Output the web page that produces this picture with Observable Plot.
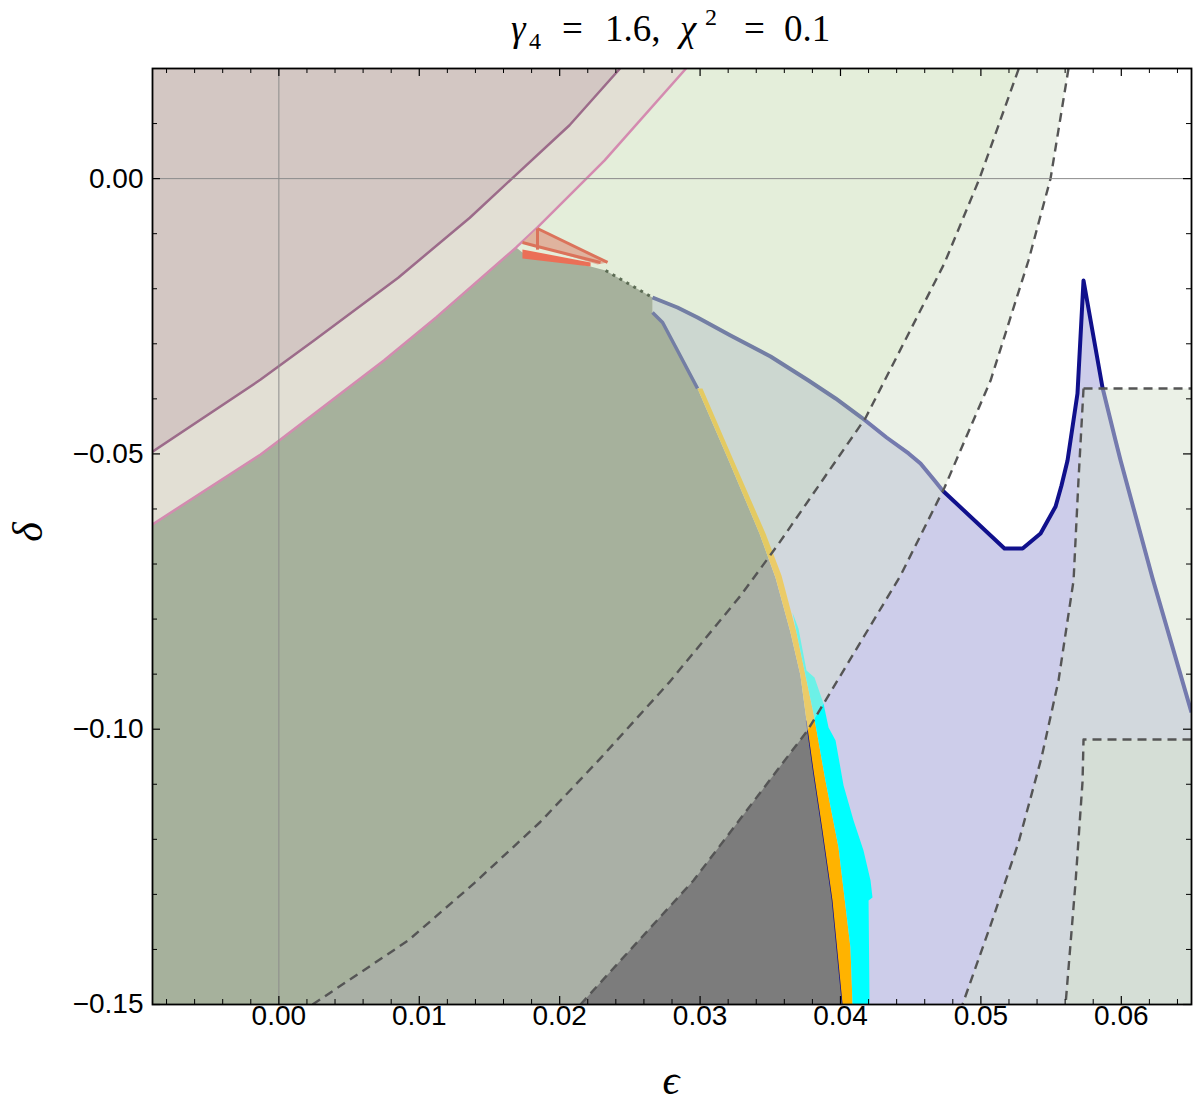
<!DOCTYPE html>
<html><head><meta charset="utf-8">
<script src="https://cdn.jsdelivr.net/npm/d3@7"></script>
<script src="https://cdn.jsdelivr.net/npm/@observablehq/plot@0.6"></script>
<style>body{margin:0;background:#fff} #chart svg{display:block}</style>
</head><body><div id="chart"></div>
<script>
// ---------- data: boundary curves as [epsilon, delta] ----------
const purpleLine = [[-0.009,-0.0496],[-0.0013,-0.0365],[0.0025,-0.0294],[0.0085,-0.0180],[0.0136,-0.0071],[0.0166,0.0],[0.0207,0.0097],[0.0243,0.02]];
const pinkLine = [[-0.009,-0.0628],[-0.0013,-0.0501],[0.0,-0.0476],[0.0075,-0.0330],[0.0112,-0.0252],[0.0169,-0.0125],[0.0184,-0.0089],[0.0219,0.0],[0.0232,0.0033],[0.0290,0.02]];
const kTop = [[0.01735,-0.01342],[0.02220,-0.01596],[0.02327,-0.01669],[0.02661,-0.02159]];
const blueLeft = [[0.02661,-0.02432],[0.02733,-0.02613],[0.02839,-0.03122],[0.02982,-0.03812],[0.03210,-0.05156],[0.03423,-0.06445],[0.03537,-0.07245],[0.03644,-0.08243],[0.03715,-0.09024],[0.03758,-0.09842],[0.03808,-0.10750],[0.03872,-0.11839],[0.03943,-0.13111],[0.04015,-0.15]];
const blueTop = [[0.02661,-0.02159],[0.02839,-0.02341],[0.02982,-0.02522],[0.03217,-0.02849],[0.03502,-0.03231],[0.03772,-0.03667],[0.03965,-0.03993],[0.04150,-0.04339],[0.04328,-0.04702],[0.04485,-0.04992],[0.04570,-0.05174],[0.04670,-0.05483],[0.04727,-0.05664],[0.05168,-0.06718],[0.05297,-0.06718],[0.05425,-0.06445],[0.05532,-0.05955],[0.05574,-0.05574],[0.05617,-0.05120],[0.05688,-0.03903],[0.05731,-0.01850],[0.05866,-0.03794],[0.05959,-0.04756],[0.05995,-0.05120],[0.06223,-0.07263],[0.06500,-0.09696]];
const orangeRight = [[0.03017,-0.03812],[0.03245,-0.05156],[0.03466,-0.06445],[0.03580,-0.07208],[0.03687,-0.08243],[0.03748,-0.08988],[0.03808,-0.09715],[0.03893,-0.10931],[0.03986,-0.12148],[0.04071,-0.13964],[0.04086,-0.15]];
const cyanRight = [[0.03658,-0.07880],[0.03701,-0.08171],[0.03758,-0.08934],[0.03815,-0.09061],[0.03879,-0.09533],[0.03915,-0.09969],[0.03965,-0.10205],[0.04022,-0.11022],[0.04093,-0.11658],[0.04164,-0.12203],[0.04214,-0.12748],[0.04228,-0.13056],[0.04200,-0.13111],[0.04207,-0.15]];
const dash1 = [[0.0024,-0.15],[0.0092,-0.1384],[0.0139,-0.1280],[0.0186,-0.1169],[0.0229,-0.1053],[0.0278,-0.0915],[0.0329,-0.0757],[0.0356,-0.0663],[0.0418,-0.0434],[0.0474,-0.0154],[0.0499,0.0],[0.0527,0.02]];
const dash2 = [[0.02148,-0.15],[0.02953,-0.12748],[0.03765,-0.10023],[0.04428,-0.07208],[0.04741,-0.05610],[0.05069,-0.03667],[0.05339,-0.01487],[0.05496,0.0],[0.05624,0.02]];
const dash3 = [[0.05731,-0.03812],[0.05695,-0.05483],[0.05660,-0.07299],[0.05553,-0.09115],[0.05432,-0.10514],[0.05268,-0.12057],[0.05076,-0.13510],[0.04869,-0.15]];
const rect1Top = [[0.05731,-0.03812],[0.065,-0.03812]];
const rect2Edge = [[0.065,-0.10187],[0.05731,-0.10187],[0.05724,-0.10949],[0.05674,-0.12784],[0.05603,-0.15]];
const redFill = [[0.01735,-0.0116],[0.01842,-0.00906],[0.02341,-0.01523],[0.02270,-0.0156],[0.01842,-0.01233]];
const redUpper = [[0.01842,-0.00906],[0.02341,-0.01523]];
const redLower = [[0.01735,-0.0116],[0.01842,-0.01233],[0.02291,-0.01523]];
const redVertical = [[0.01842,-0.00906],[0.01842,-0.0129]];
const redWedge = [[0.01735,-0.01287],[0.02220,-0.01523],[0.02220,-0.01596],[0.01735,-0.01451]];

const xTicks = [0, 0.01, 0.02, 0.03, 0.04, 0.05, 0.06];
const xTickLabels = ["0.00","0.01","0.02","0.03","0.04","0.05","0.06"];
const yTicks = [0, -0.05, -0.10, -0.15];
const yTickLabels = ["0.00","\u22120.05","\u22120.10","\u22120.15"];
const xMinor = d3.range(-8, 65, 2).filter(v => v % 10 !== 0).map(v => v / 1000);
const yMinor = d3.range(-15, 3, 1).filter(v => v % 5 !== 0).map(v => v / 100);

// ---------- polygons built from the curves ----------
const L = -0.009, R = 0.065, T = 0.02, B = -0.15;
const brownPoly = purpleLine.concat([[L, T]]);
const beigePoly = pinkLine.concat([[L, T]]);
const kPoly = pinkLine.slice(0, 6).concat(kTop, blueLeft, [[L, B]]);
const bluePoly = blueTop.concat([[R, B]], blueLeft.slice().reverse());
const orangePoly = blueLeft.slice(3).concat(orangeRight.slice().reverse());
const cyanPoly = orangeRight.filter(d => d[1] < -0.0788).concat(cyanRight.slice().reverse());
const band2Poly = dash2.concat([[L, T], [L, B]]);
const band1Poly = dash1.concat([[L, T], [L, B]]);
const rect1Poly = dash3.concat([[R, B], [R, -0.03812]]);
const rect2Poly = rect2Edge.concat([[R, B]]);

const X = d => d[0], Y = d => d[1];
const poly = (data, fill, extra = {}) => Plot.line(data, {x: X, y: Y, fill, stroke: "none", clip: true, ...extra});
const curve = (data, stroke, width, extra = {}) => Plot.line(data, {x: X, y: Y, stroke, strokeWidth: width, clip: true, strokeLinecap: "butt", ...extra});
const dashed = (data) => curve(data, "#555555", 2.4, {strokeDasharray: "9,6"});

const FH = 1104 - 68 - 100, FW = 1196 - 152 - 5;

const plot = Plot.plot({
  width: 1196, height: 1104,
  marginLeft: 152, marginRight: 5, marginTop: 68, marginBottom: 100,
  x: {domain: [L, R], axis: null},
  y: {domain: [B, T], axis: null},
  style: {background: "white", fontFamily: "'Liberation Sans', Arial, sans-serif"},
  marks: [
    poly(bluePoly, "#cdcdea"),
    poly(kPoly, "#7c7c7c"),
    curve(blueTop, "#10108c", 4),
    curve(blueLeft.slice(0, 4), "#10108c", 3.5),
    curve(blueLeft.slice(9), "#10108c", 1.5),
    poly(orangePoly, "#ffb300"),
    poly(cyanPoly, "#00ffff"),
    poly(band2Poly, "#d7e3cf", {fillOpacity: 0.5}),
    poly(rect1Poly, "#d7e3cf", {fillOpacity: 0.5}),
    poly(rect2Poly, "#d7e3cf", {fillOpacity: 0.5}),
    poly(band1Poly, "#6ecd00", {fillOpacity: 0.056}),
    poly(beigePoly, "#e2dfd4"),
    poly(brownPoly, "#d3c7c3"),
    curve(purpleLine, "#9c6b8a", 2.5),
    curve(pinkLine, "#d48bb0", 2.5),
    poly(redFill, "#dfb39e"),
    poly(redWedge, "#eb6f57"),
    curve(redUpper, "#db735b", 3),
    curve(redLower, "#db735b", 3),
    curve(redVertical, "#db735b", 3),
    curve(kTop.slice(2), "#5b6b53", 3, {strokeDasharray: "3,5"}),
    dashed(dash1),
    dashed(dash2),
    dashed(dash3),
    dashed(rect1Top),
    dashed(rect2Edge),
    Plot.ruleX([0], {stroke: "#8c8c8c", strokeWidth: 1}),
    Plot.ruleY([0], {stroke: "#8c8c8c", strokeWidth: 1}),
    // ticks (inward, all four sides)
    Plot.ruleX(xTicks, {insetTop: FH - 8, stroke: "black", strokeWidth: 1.2}),
    Plot.ruleX(xTicks, {insetBottom: FH - 8, stroke: "black", strokeWidth: 1.2}),
    Plot.ruleX(xMinor, {insetTop: FH - 5, stroke: "black", strokeWidth: 1}),
    Plot.ruleX(xMinor, {insetBottom: FH - 5, stroke: "black", strokeWidth: 1}),
    Plot.ruleY(yTicks, {insetRight: FW - 8, stroke: "black", strokeWidth: 1.2}),
    Plot.ruleY(yTicks, {insetLeft: FW - 8, stroke: "black", strokeWidth: 1.2}),
    Plot.ruleY(yMinor, {insetRight: FW - 5, stroke: "black", strokeWidth: 1}),
    Plot.ruleY(yMinor, {insetLeft: FW - 5, stroke: "black", strokeWidth: 1}),
    Plot.frame({stroke: "black", strokeWidth: 1.8}),
    Plot.text(xTicks, {x: d => d, frameAnchor: "bottom", dy: 20, text: (d, i) => xTickLabels[i], fontSize: 28, fill: "black"}),
    Plot.text(yTicks, {y: d => d, frameAnchor: "left", dx: -9, textAnchor: "end", text: (d, i) => yTickLabels[i], fontSize: 28, fill: "black"}),
  ]
});
document.getElementById("chart").appendChild(plot);

const svg = d3.select(plot);

// title
const serif = "'Liberation Serif', 'DejaVu Serif', serif";
const t = svg.append("text").attr("y", 41).attr("text-anchor", "start")
  .style("font-family", serif).style("font-size", "37px").attr("fill", "black");
t.append("tspan").attr("x", 511).style("font-style", "italic").text("γ");
t.append("tspan").attr("x", 529).attr("dy", 8).style("font-size", "24px").text("4");
t.append("tspan").attr("x", 562).attr("dy", -8).text("=");
t.append("tspan").attr("x", 605).text("1.6,");
t.append("tspan").attr("x", 680).style("font-style", "italic").text("χ");
t.append("tspan").attr("x", 705).attr("dy", -16).style("font-size", "24px").text("2");
t.append("tspan").attr("x", 744).attr("dy", 16).text("=");
t.append("tspan").attr("x", 784).text("0.1");

// axis labels
svg.append("text").attr("x", 671).attr("y", 1094).attr("text-anchor", "middle")
  .style("font-family", serif).style("font-size", "42px").style("font-style", "italic").text("ϵ");
svg.append("text").attr("transform", "translate(42,532) rotate(-90)").attr("text-anchor", "middle")
  .style("font-family", serif).style("font-size", "42px").style("font-style", "italic").text("δ");
</script>
</body></html>
